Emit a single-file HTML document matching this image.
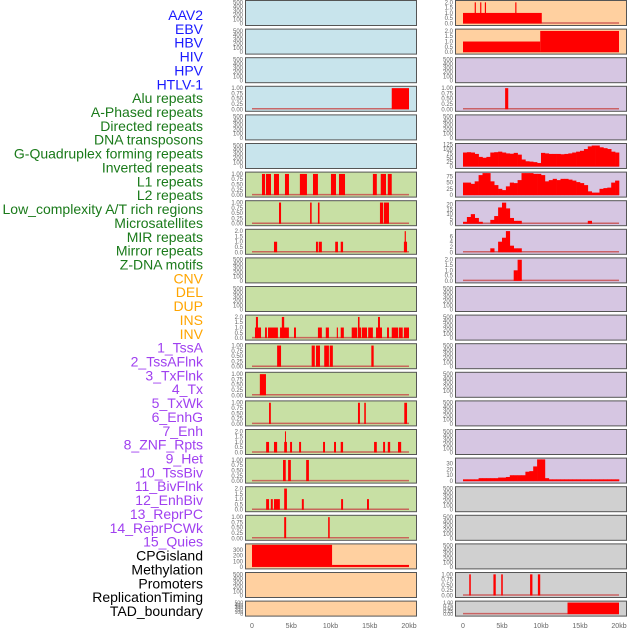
<!DOCTYPE html>
<html><head><meta charset="utf-8">
<style>
html,body{margin:0;padding:0;background:#fff;}
svg{display:block;font-family:"Liberation Sans",sans-serif;}
</style></head>
<body>
<svg id="chart" width="630" height="630" viewBox="0 0 630 630">
<g id="labels"></g>
<g id="panels"></g>
<g id="xaxes"></g>
</svg>
<script>
// ---- labels ----
const labelTexts = ["AAV2","EBV","HBV","HIV","HPV","HTLV-1","Alu repeats","A-Phased repeats","Directed repeats","DNA transposons","G-Quadruplex forming repeats","Inverted repeats","L1 repeats","L2 repeats","Low_complexity A/T rich regions","Microsatellites","MIR repeats","Mirror repeats","Z-DNA motifs","CNV","DEL","DUP","INS","INV","1_TssA","2_TssAFlnk","3_TxFlnk","4_Tx","5_TxWk","6_EnhG","7_Enh","8_ZNF_Rpts","9_Het","10_TssBiv","11_BivFlnk","12_EnhBiv","13_ReprPC","14_ReprPCWk","15_Quies","CPGisland","Methylation","Promoters","ReplicationTiming","TAD_boundary"];
const labelGroups = [6,13,5,15,5];
const groupColors = ["#1a1aff","#1a7a1a","#ffa500","#a040f0","#000000"];

// ---- tick label sets ----
const ticks500 = [0,100,200,300,400,500];
const ticks1 = ["0.00","0.25","0.50","0.75","1.00"];
const ticks2 = ["0.0","0.5","1.0","1.5","2.0"];
const ticksR5 = [0,25,50,75,100,125];
const ticksR6 = [0,25,50,75];
const ticksR7 = [0,5,10,15,20];
const ticksR8 = [0,2,4,6];
const ticksR16 = [0,10,20,30];
const ticksL19 = [0,100,200,300];
const xTickKb = [0,5,10,15,20];
const xTickLabels = ["0","5kb","10kb","15kb","20kb"];

// ---- left column data: bars [startKb, endKb, value] ----
const L3 = [[17.8,20.0,1]];
const L6 = [[1.27,1.66,1],[1.78,2.42,1],[2.8,3.44,1],[4.2,4.71,1],[6.1,7.0,1],[7.77,8.4,1],[10.06,10.7,1],[11.08,11.85,1],[15.4,15.9,1],[16.4,17.07,1],[17.3,17.8,1]];
const L7 = [[3.44,3.7,1],[7.4,7.6,1],[8.4,8.6,1],[16.3,16.7,1],[16.8,17.45,1]];
const L8 = [[2.8,3.2,1],[8.15,8.4,1],[8.5,8.9,1],[10.6,10.95,1],[11.3,11.6,1],[19.35,19.75,1],[19.45,19.6,2]];
const L11 = [[0.38,1.15,1],[0.5,0.76,2],[1.66,1.9,1],[2.04,3.3,1],[3.57,4.7,1],[3.8,4.1,2],[5.35,5.6,1],[8.4,8.9,1],[9.4,9.8,1],[10.8,10.95,1],[11.3,11.7,1],[12.7,13.4,1],[13.5,13.9,1],[13.5,13.7,2],[14.0,14.65,1],[14.8,15.4,1],[15.8,16.56,1],[16.05,16.3,2],[17.2,17.45,1],[17.8,18.6,1],[18.7,19.2,1],[19.35,20.0,1]];
const L12 = [[3.2,3.7,1],[7.6,8.0,1],[8.15,8.66,1],[9.2,9.8,1],[9.9,10.3,1],[15.2,15.5,1]];
const L13 = [[1.0,1.78,1]];
const L14 = [[2.17,2.4,1],[13.5,13.75,1],[14.3,14.5,1],[19.4,19.75,1]];
const L15 = [[1.8,2.17,1],[2.8,3.2,1],[4.1,4.45,1],[4.2,4.3,2],[4.85,5.1,1],[6.0,6.25,1],[9.05,9.3,1],[10.45,10.7,1],[11.3,11.6,1],[15.55,15.9,1],[16.7,16.95,1],[17.3,17.6,1],[18.6,19.0,1]];
const L16 = [[3.95,4.3,1],[4.6,4.95,1],[6.9,7.25,1]];
const L17 = [[1.8,2.17,1],[2.4,2.65,1],[2.8,3.55,1],[4.1,4.45,2],[6.35,6.6,1],[11.35,11.6,1],[14.65,14.9,1]];
const L18 = [[4.1,4.35,1],[9.7,9.9,1]];
const L19 = [[0,10.2,390],[10.2,20,35]];

// ---- right column data ----
const R0 = [[0,10.1,1],[1.5,1.65,2],[2.2,2.35,2],[2.8,2.95,2],[6.7,6.85,2]];
const R1 = [[0,9.9,1],[9.9,20.0,2]];
const R3 = [[5.4,5.8,1]];
// area series: one value per 0.5kb bin
const R5 = [80,82,80,72,55,50,55,80,82,85,80,75,73,78,68,40,30,28,25,20,78,75,72,72,72,70,72,75,80,85,90,100,115,120,120,110,105,100,85,80];
const R6 = [50,50,45,55,80,88,88,55,40,25,20,35,50,48,60,88,88,88,85,85,80,55,60,65,60,65,65,62,58,52,48,40,15,10,10,25,28,30,50,58];
const R7 = [2,7,10,6,2,0,0,4,8,17,22,16,6,3,3,0,0,0,0,0,0,0,0,0,0,0,0,0,0,0,0,0,3,0,0,0,0,0,0,0];
const R8 = [0,0,0,0,0,0,0,1.5,0,4,5.5,8,2.5,1.5,1.5,0,0,0,0,0,0,0,0,0,0,0,0,0,0,0,0,0,0,0,0,0,0,0,0,0];
const R9 = [0,0,0,0,0,0,0,0,0,0,0,0,0,1,2,0,0,0,0,0,0,0,0,0,0,0,0,0,0,0,0,0,0,0,0,0,0,0,0,0];
const R16 = [3,3,3,3,5,5,5,5,5,6,6,7,10,10,10,10,16,17,25,37,37,5,3,3,3,3,3,3,3,3,3,3,3,3,3,3,3,3,3,3];
const R20 = [[0.8,1.0,1],[3.9,4.2,1],[4.9,5.1,1],[8.6,8.9,1],[9.6,9.9,1]];
const R21 = [[13.4,20.0,1]];

const BLUE="#c8e4ec", GREEN="#c8e0a4", PEACH="#ffd0a0", LAV="#d6c6e2", GRAY="#d0d0d0";
const leftPanels = [
 {bg:BLUE,ticks:ticks500,max:520},{bg:BLUE,ticks:ticks500,max:520},{bg:BLUE,ticks:ticks500,max:520},
 {bg:BLUE,ticks:ticks1,max:1.04,bars:L3},{bg:BLUE,ticks:ticks500,max:520},{bg:BLUE,ticks:ticks500,max:520},
 {bg:GREEN,ticks:ticks1,max:1.04,bars:L6},{bg:GREEN,ticks:ticks1,max:1.04,bars:L7},{bg:GREEN,ticks:ticks2,max:2.08,bars:L8},
 {bg:GREEN,ticks:ticks500,max:520},{bg:GREEN,ticks:ticks500,max:520},
 {bg:GREEN,ticks:ticks2,max:2.08,bars:L11},{bg:GREEN,ticks:ticks1,max:1.04,bars:L12},{bg:GREEN,ticks:ticks1,max:1.04,bars:L13},
 {bg:GREEN,ticks:ticks1,max:1.04,bars:L14},{bg:GREEN,ticks:ticks2,max:2.08,bars:L15},{bg:GREEN,ticks:ticks1,max:1.04,bars:L16},
 {bg:GREEN,ticks:ticks2,max:2.08,bars:L17},{bg:GREEN,ticks:ticks1,max:1.04,bars:L18},
 {bg:PEACH,ticks:ticksL19,max:390,bars:L19},{bg:PEACH,ticks:ticks500,max:520},{bg:PEACH,ticks:ticks500,max:520}
];
const rightPanels = [
 {bg:PEACH,ticks:ticks2,max:2.08,bars:R0},{bg:PEACH,ticks:ticks2,max:2.08,bars:R1},{bg:LAV,ticks:ticks500,max:520},
 {bg:LAV,ticks:ticks1,max:1.04,bars:R3},{bg:LAV,ticks:ticks500,max:520},
 {bg:LAV,ticks:ticksR5,max:126,area:R5},{bg:LAV,ticks:ticksR6,max:88,area:R6},{bg:LAV,ticks:ticksR7,max:23,area:R7},
 {bg:LAV,ticks:ticksR8,max:8.3,area:R8},{bg:LAV,ticks:ticks2,max:2.08,area:R9},
 {bg:LAV,ticks:ticks500,max:520},{bg:LAV,ticks:ticks500,max:520},{bg:LAV,ticks:ticks500,max:520},
 {bg:LAV,ticks:ticks500,max:520},{bg:LAV,ticks:ticks500,max:520},{bg:LAV,ticks:ticks500,max:520},
 {bg:LAV,ticks:ticksR16,max:37.5,area:R16},
 {bg:GRAY,ticks:ticks500,max:520},{bg:GRAY,ticks:ticks500,max:520},{bg:GRAY,ticks:ticks500,max:520},
 {bg:GRAY,ticks:ticks1,max:1.04,bars:R20},{bg:GRAY,ticks:ticks1,max:1.04,bars:R21}
];

const NS="http://www.w3.org/2000/svg";
function mk(tag,attrs,parent){const e=document.createElementNS(NS,tag);for(const k in attrs)e.setAttribute(k,attrs[k]);parent.appendChild(e);return e;}

// labels
const lg=document.getElementById('labels');
let li=0;
labelGroups.forEach((n,g)=>{for(let k=0;k<n;k++,li++){
  const t=mk('text',{x:203,y:20+li*13.86,'text-anchor':'end','font-size':14,fill:groupColors[g]},lg);
  
  
  t.textContent=labelTexts[li];
}});

const pg=document.getElementById('panels');
function drawColumn(panels,x0,x1,kb0px,kbScale,side){
  const xs=kb=>kb0px+kb*kbScale;
  panels.forEach((p,i)=>{
    const top=0.5+28.6*i;
    const h=(i===21)?15:25;
    const bot=top+h;
    const g=mk('g',{},pg);
    
    
    const r=mk('rect',{x:x0,y:top,width:x1-x0,height:h,fill:p.bg,stroke:'none'},g);
    
    
    const y0=bot-2, yT=top+1;
    const ys=v=>y0-(v/p.max)*(y0-yT);
    // ticks
    const nt=p.ticks.length;
    p.ticks.forEach((tv,j)=>{
      const v=parseFloat(tv);
      const t=mk('text',{x:x0-2,y:ys(v)+2,'text-anchor':'end','font-size':(h<20?5:6),fill:'#666'},g);
      
      
      t.textContent=tv;
    });
    const hasData=p.bars||p.area;
    if(hasData){
      const bl=mk('line',{x1:xs(0),x2:xs(20),y1:y0-0.5,y2:y0-0.5,stroke:'#c84848','stroke-width':1.5,opacity:0.8},g);
      
      
    }
    if(p.bars){
      p.bars.forEach(b=>{
        const yy=ys(b[2]);
        const rr=mk('rect',{x:xs(b[0]),y:yy,width:Math.max(1,xs(b[1])-xs(b[0])),height:y0-yy,fill:'#ff0000'},g);
        
        
      });
    }
    if(p.area){
      p.area.forEach((v,k)=>{
        if(v<=0)return;
        const yy=ys(v);
        const rr=mk('rect',{x:xs(k*0.5),y:yy,width:xs((k+1)*0.5)-xs(k*0.5)+0.3,height:y0-yy,fill:'#ff0000'},g);
        
        
      });
    }
    const fr=mk('rect',{x:x0+0.5,y:top,width:x1-x0-1,height:h,fill:'none',stroke:'#555','stroke-width':1},g);
    
    
  });
  const xg=document.getElementById('xaxes');
  xTickKb.forEach((kb,j)=>{
    const t=mk('text',{x:xs(kb),y:628,'text-anchor':'middle','font-size':7,fill:'#666'},xg);
    
    
    t.textContent=xTickLabels[j];
  });
}
drawColumn(leftPanels,245,417,252,7.85,'left');
drawColumn(rightPanels,455,627,463,7.8,'right');
</script>
</body></html>
